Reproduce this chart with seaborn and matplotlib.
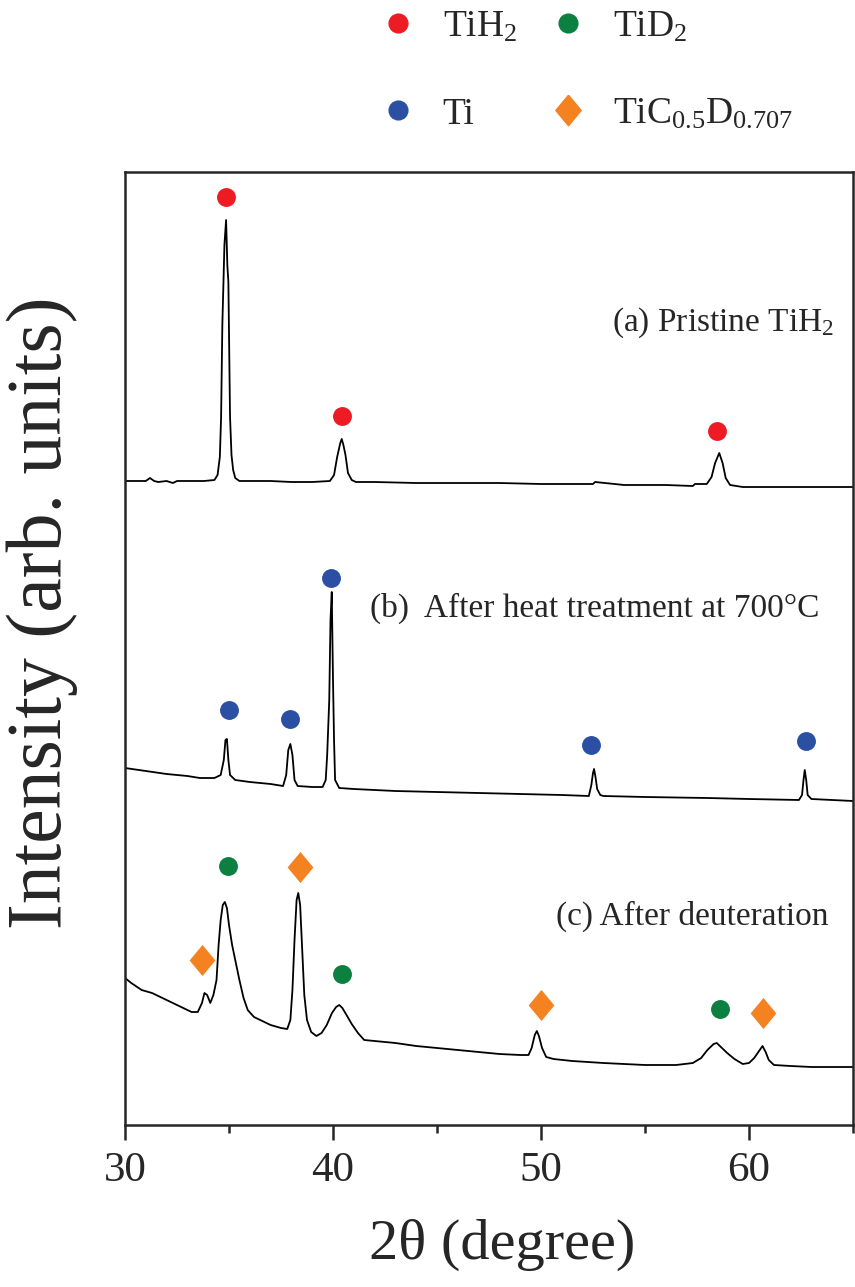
import numpy as np
import pandas as pd
import matplotlib
matplotlib.use("Agg")
import matplotlib.pyplot as plt
from matplotlib import font_manager as fm
from matplotlib.lines import Line2D
from matplotlib.ticker import MultipleLocator
import seaborn as sns

# ---------------- data (2-theta in degrees, stacked intensity in arb. units) ----------------
tt_a = [30.0, 31.0, 31.2, 31.4, 31.6, 32.0, 32.3, 32.5, 33.0, 33.8, 34.3, 34.45, 34.56, 34.62, 34.68,
        34.78, 34.86, 34.92, 34.97, 35.05, 35.12, 35.2, 35.3, 35.5, 36.0, 37.0, 38.0, 39.0, 39.85,
        40.05, 40.2, 40.35, 40.42, 40.5, 40.6, 40.72, 40.9, 41.1, 42.0, 44.0, 46.0, 48.0, 50.0, 52.0,
        52.5, 52.6, 54.0, 56.0, 57.3, 57.4, 57.97, 58.2, 58.37, 58.57, 58.73, 58.88, 59.09, 59.7,
        61.0, 63.0, 65.0]
int_a = [644, 644, 647, 644, 643, 644, 642, 644, 644, 644, 645, 650, 668, 708, 800,
         880, 905, 860, 843, 708, 670, 655, 647, 644, 644, 644, 643, 643, 644,
         650, 668, 682, 686, 680, 670, 652, 645, 643, 643, 642, 642, 642, 641, 641,
         641, 643, 640, 640, 639, 641, 641, 648, 662, 672, 662, 647, 640, 638,
         638, 638, 638]

tt_b = [30.0, 31.0, 32.0, 33.0, 33.6, 34.3, 34.6, 34.75, 34.83, 34.9, 34.97, 35.05, 35.3, 36.0,
        37.0, 37.6, 37.75, 37.85, 37.95, 38.05, 38.15, 38.3, 39.0, 39.5, 39.65, 39.72, 39.82, 39.88,
        39.94, 40.0, 40.05, 40.1, 40.3, 41.0, 43.0, 45.0, 47.0, 49.0, 51.0, 52.3, 52.42, 52.5, 52.55,
        52.62, 52.7, 52.85, 53.0, 55.0, 58.0, 60.0, 62.4, 62.55, 62.62, 62.68, 62.75, 62.82, 63.0,
        64.0, 65.0]
int_b = [357, 354, 351, 349, 347, 347, 350, 365, 385, 386, 365, 350, 345, 343,
         341, 339, 350, 375, 381, 370, 345, 339, 338, 338, 345, 370, 425, 505,
         533, 445, 385, 345, 337, 336, 334, 333, 332, 331, 330, 329, 340, 352, 356,
         348, 336, 330, 329, 328, 327, 326, 325, 330, 345, 355, 345, 330, 326,
         325, 324]

tt_c = [30.0, 30.3, 30.8, 31.3, 31.7, 32.2, 32.7, 33.2, 33.5, 33.7, 33.82, 33.95, 34.1, 34.25,
        34.4, 34.5, 34.6, 34.7, 34.8, 34.9, 35.0, 35.15, 35.3, 35.5, 35.7, 35.9, 36.2, 36.6, 37.0,
        37.5, 37.8, 37.95, 38.05, 38.15, 38.25, 38.33, 38.42, 38.52, 38.62, 38.75, 38.95, 39.2,
        39.45, 39.7, 39.95, 40.15, 40.3, 40.45, 40.65, 40.9, 41.2, 41.5, 42.0, 43.0, 44.0, 45.0,
        46.0, 47.0, 48.0, 49.0, 49.4, 49.55, 49.7, 49.8, 49.9, 50.05, 50.25, 50.6, 51.5, 53.0,
        55.0, 56.5, 57.3, 57.7, 58.0, 58.3, 58.45, 58.65, 58.95, 59.3, 59.7, 60.0, 60.25, 60.45,
        60.65, 60.8, 60.95, 61.2, 62.0, 63.0, 64.0, 65.0]
int_c = [147, 142, 135, 132, 128, 123, 118, 113, 113, 122, 132, 130, 122, 130,
         145, 180, 205, 220, 223, 217, 200, 180, 165, 145, 127, 115, 108, 104, 100,
         97, 96, 105, 135, 185, 225, 232, 220, 175, 130, 105, 93, 89,
         92, 100, 112, 118, 120, 117, 110, 101, 92, 85, 84, 82, 79, 77,
         75, 73, 71, 70, 70, 77, 90, 94, 89, 77, 68, 66, 64, 62,
         60, 60, 62, 67, 75, 81, 82, 78, 72, 66, 61, 62, 67, 73,
         79, 73, 65, 60, 59, 58, 58, 58]

# peak markers (2-theta, height)
tih2_tt = [34.86, 40.43, 58.46]
tih2_y = [928, 709, 694]
ti_tt = [35.0, 37.93, 39.9, 52.4, 62.74]
ti_y = [415, 406, 547, 380, 384]
tid2_tt = [34.95, 40.43, 58.6]
tid2_y = [259, 151, 116]
ticd_tt = [33.7, 38.41, 50.0, 60.67]
ticd_y = [165, 258, 120, 112]

curve_labels = ["(a) Pristine TiH$_2$", "(b)  After heat treatment at 700°C", "(c) After deuteration"]
phase_labels = ["TiH$_2$", "Ti", "TiD$_2$", "TiC$_{0.5}$D$_{0.707}$"]

# ---------------- fonts ----------------
serif_name = "Liberation Serif"
for path in fm.findSystemFonts():
    base = path.split("/")[-1]
    if base.startswith("LiberationSerif"):
        try:
            fm.fontManager.addfont(path)
            if base.startswith("LiberationSerif-Regular"):
                serif_name = fm.FontProperties(fname=path).get_name()
        except Exception:
            pass

# ---------------- style ----------------
sns.set_style("ticks")
plt.rcParams["font.family"] = [serif_name, "DejaVu Serif"]
plt.rcParams["mathtext.fontset"] = "custom"
plt.rcParams["mathtext.rm"] = serif_name
plt.rcParams["mathtext.it"] = serif_name + ":italic"
plt.rcParams["mathtext.default"] = "regular"

RED = "#ED1C24"
BLUE = "#2B4FA3"
GREEN = "#0B8040"
ORANGE = "#F58220"
DIAMOND = [(0, 1), (0.83, 0), (0, -1), (-0.83, 0), (0, 1)]

fig = plt.figure(figsize=(8.55, 12.87), dpi=100)
ax = fig.add_axes([125 / 855, (1287 - 1125) / 1287, 728 / 855, 953 / 1287])

for tt, yy in [(tt_a, int_a), (tt_b, int_b), (tt_c, int_c)]:
    df = pd.DataFrame({"two_theta": tt, "intensity": yy})
    sns.lineplot(data=df, x="two_theta", y="intensity", color="black", lw=1.3,
                 sort=False, estimator=None, ax=ax)

for tt, yy, col, mk, s in [(tih2_tt, tih2_y, RED, "o", 185), (ti_tt, ti_y, BLUE, "o", 185),
                           (tid2_tt, tid2_y, GREEN, "o", 185), (ticd_tt, ticd_y, ORANGE, DIAMOND, 500)]:
    dfm = pd.DataFrame({"two_theta": tt, "intensity": yy})
    sns.scatterplot(data=dfm, x="two_theta", y="intensity", color=col, marker=mk, s=s,
                    linewidth=0, ax=ax, legend=False, zorder=3)

ax.set_xlim(30, 65)
ax.set_ylim(0, 953)
ax.set_yticks([])
ax.xaxis.set_major_locator(MultipleLocator(10))
ax.xaxis.set_minor_locator(MultipleLocator(5))
ax.tick_params(axis="x", which="major", direction="out", length=11, width=1.8, labelsize=31, pad=8)
ax.tick_params(axis="x", which="minor", direction="out", length=6, width=1.8)
for sp in ax.spines.values():
    sp.set_linewidth(1.8)
    sp.set_visible(True)

ax.set_xlabel("2θ (degree)", fontsize=42)
ax.xaxis.set_label_coords(0.518, -0.098)
ax.xaxis.label.set_va("top")
ax.set_ylabel("Intensity (arb. units)", fontsize=56)
ax.yaxis.set_label_coords(-0.064, 0.538)

ax.text(64.1, 802, curve_labels[0], fontsize=24, ha="right", va="center")
ax.text(63.4, 517, curve_labels[1], fontsize=24, ha="right", va="center")
ax.text(63.8, 209, curve_labels[2], fontsize=24, ha="right", va="center")

handles = [Line2D([], [], ls="none", marker="o", color=RED, ms=13.5),
           Line2D([], [], ls="none", marker="o", color=BLUE, ms=13.5),
           Line2D([], [], ls="none", marker="o", color=GREEN, ms=13.5),
           Line2D([], [], ls="none", marker=DIAMOND, color=ORANGE, ms=22)]
fig.legend(handles, phase_labels, ncol=2, loc="upper left",
           bbox_to_anchor=(379 / 855, 1 - 10 / 1287), frameon=False, fontsize=27,
           handlelength=1.0, handletextpad=0.7, columnspacing=0.85, labelspacing=1.4,
           borderpad=0, borderaxespad=0)

fig.savefig("out.png", dpi=100)
